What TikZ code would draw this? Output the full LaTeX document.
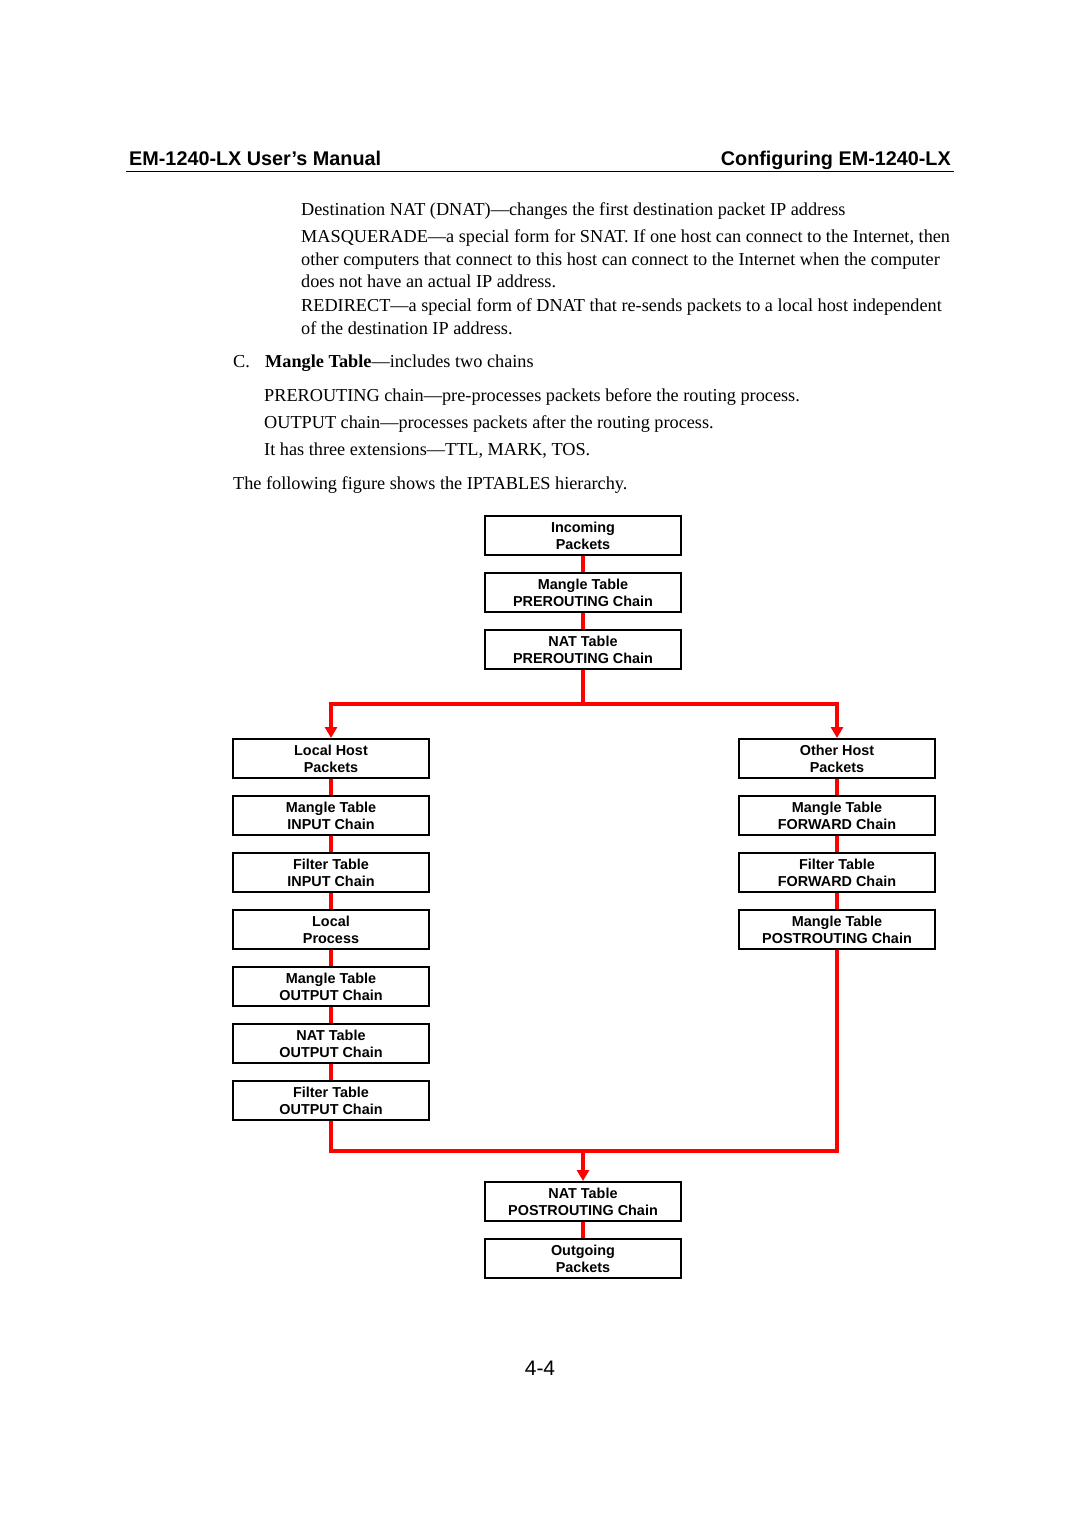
\documentclass[tikz,border=0pt]{standalone}
\usepackage{fontspec}
\setmainfont{Liberation Serif}
\setsansfont{Liberation Sans}
\usetikzlibrary{arrows.meta}
\begin{document}
\begin{tikzpicture}[x=1pt,y=-1pt,
  box/.style={draw=black,line width=2pt,minimum width=196pt,minimum height=39pt,inner sep=0pt,
    align=center,font=\sffamily\bfseries\fontsize{14.4}{17}\selectfont},
  flow/.style={draw=red,line width=3.5pt},
  flowarrow/.style={flow,-{Triangle[length=11pt,width=12pt]}},
  body/.style={anchor=base west,inner sep=0pt,font=\fontsize{18.25}{20}\selectfont},
  hdr/.style={inner sep=0pt,font=\sffamily\bfseries\fontsize{19.8}{22}\selectfont}]
\useasboundingbox (0,0) rectangle (1080,1527);
\fill[white] (0,0) rectangle (1080,1527);
% header
\node[hdr,anchor=base west] (hl) at (129,165) {EM-1240-LX User’s Manual};
\node[hdr,anchor=base east] (hr) at (951,165) {Configuring EM-1240-LX};
\draw[line width=1pt] (126,171) -- (954,171);
% body text
\node[body] (t1) at (301,215) {Destination NAT (DNAT)—changes the first destination packet IP address};
\node[body] (t2) at (301,242) {MASQUERADE—a special form for SNAT. If one host can connect to the Internet, then};
\node[body] (t3) at (301,265) {other computers that connect to this host can connect to the Internet when the computer};
\node[body] (t4) at (301,287) {does not have an actual IP address.};
\node[body] (t5) at (301,311) {REDIRECT—a special form of DNAT that re-sends packets to a local host independent};
\node[body] (t6) at (301,334) {of the destination IP address.};
\node[body] (t7) at (233,367) {C.};
\node[body] (t8) at (265,367) {\textbf{Mangle Table}—includes two chains};
\node[body] (t9) at (264,401) {PREROUTING chain—pre-processes packets before the routing process.};
\node[body] (t10) at (264,428) {OUTPUT chain—processes packets after the routing process.};
\node[body] (t11) at (264,455) {It has three extensions—TTL, MARK, TOS.};
\node[body] (t12) at (233,489) {The following figure shows the IPTABLES hierarchy.};
% boxes
\node[box] (in) at (583,535.5) {Incoming\\Packets};
\node[box] (mpre) at (583,592.5) {Mangle Table\\PREROUTING Chain};
\node[box] (npre) at (583,649.5) {NAT Table\\PREROUTING Chain};
\node[box] (lhp) at (331,758.5) {Local Host\\Packets};
\node[box] (min) at (331,815.5) {Mangle Table\\INPUT Chain};
\node[box] (fin) at (331,872.5) {Filter Table\\INPUT Chain};
\node[box] (lp) at (331,929.5) {Local\\Process};
\node[box] (mout) at (331,986.5) {Mangle Table\\OUTPUT Chain};
\node[box] (nout) at (331,1043.5) {NAT Table\\OUTPUT Chain};
\node[box] (fout) at (331,1100.5) {Filter Table\\OUTPUT Chain};
\node[box] (ohp) at (837,758.5) {Other Host\\Packets};
\node[box] (mfw) at (837,815.5) {Mangle Table\\FORWARD Chain};
\node[box] (ffw) at (837,872.5) {Filter Table\\FORWARD Chain};
\node[box] (mpost) at (837,929.5) {Mangle Table\\POSTROUTING Chain};
\node[box] (npost) at (583,1201.5) {NAT Table\\POSTROUTING Chain};
\node[box] (outp) at (583,1258.5) {Outgoing\\Packets};
\coordinate (split) at (583,704);
\coordinate (merge) at (583,1151);
% connectors
\draw[flow] (in) -- (mpre);
\draw[flow] (mpre) -- (npre);
\draw[flow] (npre) -- (split);
\draw[flowarrow] (split) -| (lhp);
\draw[flowarrow] (split) -| (ohp);
\draw[flow] (lhp) -- (min);
\draw[flow] (min) -- (fin);
\draw[flow] (fin) -- (lp);
\draw[flow] (lp) -- (mout);
\draw[flow] (mout) -- (nout);
\draw[flow] (nout) -- (fout);
\draw[flow] (ohp) -- (mfw);
\draw[flow] (mfw) -- (ffw);
\draw[flow] (ffw) -- (mpost);
\draw[flow] (fout) |- (merge);
\draw[flow] (mpost) |- (merge);
\draw[flowarrow] (merge) -- (npost);
\draw[flow] (npost) -- (outp);
% page number
\node[inner sep=0pt,font=\sffamily\fontsize{21}{24}\selectfont] (pg) at (540,1368) {4-4};
\end{tikzpicture}
\end{document}
